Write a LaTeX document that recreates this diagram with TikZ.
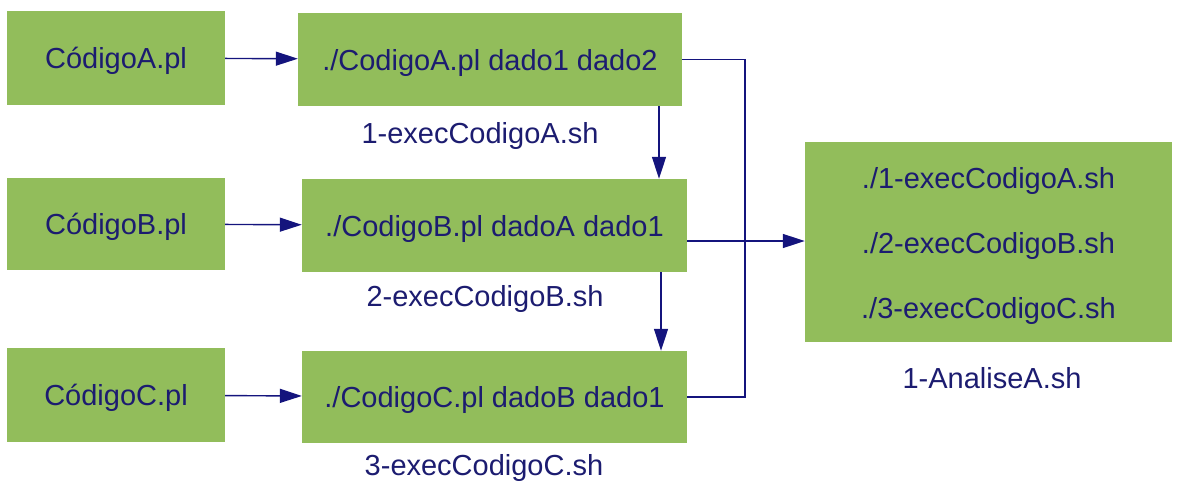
\documentclass[tikz,border=0pt]{standalone}
\usepackage{fontspec}
\setmainfont{Liberation Sans}
\usetikzlibrary{arrows.meta}

\definecolor{boxgreen}{RGB}{146,189,91}
\definecolor{inknavy}{RGB}{28,28,112}
\definecolor{linenavy}{RGB}{20,20,125}

\tikzset{
  txt/.style={text=inknavy, font=\fontsize{29}{34}\selectfont,
              text height=21pt, text depth=0pt},
  box/.style={txt, fill=boxgreen, draw=none, inner sep=0pt},
  caption/.style={txt, inner sep=0pt},
  link/.style={draw=linenavy, line width=1.4pt},
  arr/.style={link, -{Triangle[length=22pt, width=14pt]}},
}

\begin{document}
\begin{tikzpicture}[x=1pt, y=-1pt]
  \useasboundingbox (0,0) rectangle (1180,480);

  % source files
  \node[box, minimum width=218pt, minimum height=94pt] (plA) at (116,58)  {CódigoA.pl};
  \node[box, minimum width=218pt, minimum height=92pt] (plB) at (116,224) {CódigoB.pl};
  \node[box, minimum width=218pt, minimum height=94pt] (plC) at (116,395) {CódigoC.pl};

  % execution scripts
  \node[box, minimum width=384pt, minimum height=93pt] (cmdA) at (490,59.5)  {./CodigoA.pl dado1 dado2};
  \node[box, minimum width=385pt, minimum height=93pt] (cmdB) at (494.5,225.5) {./CodigoB.pl dadoA dado1};
  \node[box, minimum width=385pt, minimum height=92pt] (cmdC) at (494.5,397) {./CodigoC.pl dadoB dado1};

  \node[caption] (labA) at (480,133) {1-execCodigoA.sh};
  \node[caption] (labB) at (485,296) {2-execCodigoB.sh};
  \node[caption] (labC) at (484,465) {3-execCodigoC.sh};

  % analysis script and the calls it makes
  \node[box, minimum width=367pt, minimum height=200pt] (ana) at (988.5,242) {};
  \node[caption] (anaA) at (988.5,178) {./1-execCodigoA.sh};
  \node[caption] (anaB) at (988.5,243) {./2-execCodigoB.sh};
  \node[caption] (anaC) at (988.5,308) {./3-execCodigoC.sh};
  \node[caption] (labAna) at (992,378) {1-AnaliseA.sh};

  % file -> script
  \draw[arr] (plA) -- (cmdA);
  \draw[arr] (plB) -- (cmdB);
  \draw[arr] (plC) -- (cmdC);

  % script chain
  \coordinate (dA) at (659,0);
  \coordinate (dB) at (661,0);
  \draw[arr] (cmdA.south -| dA) -- (cmdB.north -| dA);
  \draw[arr] (cmdB.south -| dB) -- (cmdC.north -| dB);

  % scripts -> analysis
  \coordinate (J) at (745,241);
  \draw[link] (cmdA.east) -| (J);
  \draw[link] (cmdC.east) -| (J);
  \draw[arr] (cmdB.east |- J) -- (ana.west |- J);
\end{tikzpicture}
\end{document}
